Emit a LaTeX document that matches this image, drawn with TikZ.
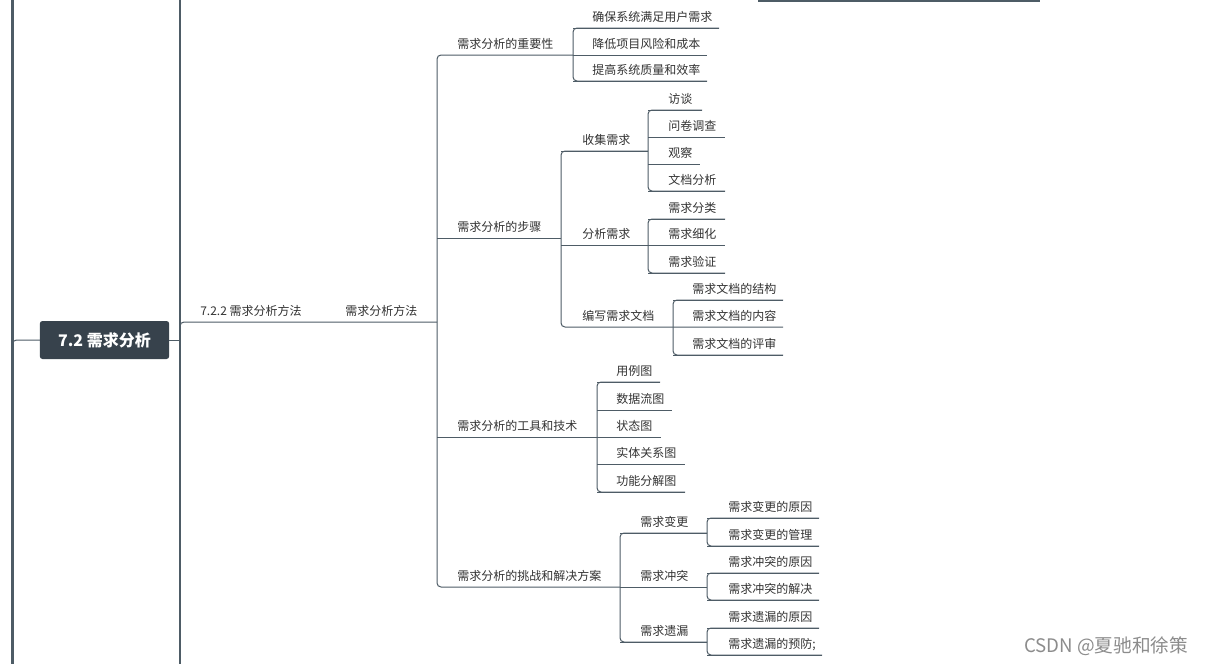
\documentclass[tikz,border=0pt]{standalone}
\usepackage{fontspec}
\setmainfont{Noto Sans CJK SC}
\definecolor{ln}{HTML}{4E5C66}
\definecolor{tx}{HTML}{333333}
\definecolor{rootbg}{HTML}{37424C}
\tikzset{
  lbl/.style={anchor=base west, inner sep=0pt, text=tx, font=\fontsize{9}{10}\selectfont},
  link/.style={draw=ln, line width=0.75pt, rounded corners=3pt},
  rootbox/.style={fill=rootbg, rounded corners=2pt, text=white, font=\fontsize{12}{13}\selectfont\bfseries, inner sep=0pt, minimum width=97pt, minimum height=28.5pt},
}
% \lf{name}{vx}{y}{textx}{endx}{text}
\newcommand{\lf}[6]{%
  \node[lbl] (#1) at (#4,#3-6.5) {#6};
  \coordinate (#1e) at (#5,#3);
  \draw[link] (#2,#3) -- (#1e);
}
\begin{document}
\begin{tikzpicture}[x=0.75pt,y=-0.75pt]
\useasboundingbox (0,0) rectangle (1211,664);
\fill[white] (0,0) rectangle (1211,664);
% top-right cut edge
\fill[ln] (758,0) rectangle (1040,1.6);
% left main trunk
\draw[ln, line width=1.6pt] (12.5,0) -- (12.5,664);
\draw[link] (12.5,350) -- (12.5,340) -- (40,340);
% root
\node[rootbox] (root) at (104.5,340) {7.2 需求分析};
\coordinate (t1) at (180,340);
\draw[link] (root.east) -- (t1);
\draw[ln, line width=0.9pt] (180,0) -- (180,664);
% level 1
\node[lbl] (m1) at (200,315.5) {7.2.2 需求分析方法};
\node[lbl] (m2) at (345,315.5) {需求分析方法};
\coordinate (v2) at (437,322);
\draw[link] (180,330) -- (180,322) -- (v2);
% level 2 trunk
\draw[link] (573,55) -- (437,55) -- (437,587) -- (620,587);
\node[lbl] (imp) at (457,48.5) {需求分析的重要性};
\node[lbl] (stp) at (457,231.5) {需求分析的步骤};
\draw[link] (437,238) -- (561,238);
\node[lbl] (tool) at (457,430.5) {需求分析的工具和技术};
\draw[link] (437,437) -- (597,437);
\node[lbl] (chal) at (457,580.5) {需求分析的挑战和解决方案};
% importance children
\draw[link] (719,28) -- (573,28) -- (573,81) -- (707,81);
\lf{i1}{573}{28}{592}{719}{确保系统满足用户需求}
\lf{i2}{573}{55}{592}{707}{降低项目风险和成本}
\lf{i3}{573}{81}{592}{707}{提高系统质量和效率}
% steps children
\draw[link] (648,151) -- (561,151) -- (561,327) -- (783,327);
\lf{s1}{561}{151}{582}{648}{收集需求}
\lf{s2}{561}{245}{582}{648}{分析需求}
\node[lbl] (s3) at (582,320.5) {编写需求文档};
% collect children
\draw[link] (702,110) -- (648,110) -- (648,191) -- (725,191);
\lf{c1}{648}{110}{668}{702}{访谈}
\lf{c2}{648}{137}{668}{725}{问卷调查}
\lf{c3}{648}{164}{668}{700}{观察}
\lf{c4}{648}{191}{668}{725}{文档分析}
% analyse children
\draw[link] (725,219) -- (648,219) -- (648,273) -- (725,273);
\lf{a1}{648}{219}{668}{725}{需求分类}
\lf{a2}{648}{245}{668}{725}{需求细化}
\lf{a3}{648}{273}{668}{725}{需求验证}
% write children
\draw[link] (783,300) -- (673,300) -- (673,355) -- (783,355);
\lf{w1}{673}{300}{692}{783}{需求文档的结构}
\node[lbl] (w2) at (692,320.5) {需求文档的内容};
\lf{w3}{673}{355}{692}{783}{需求文档的评审}
% tools children
\draw[link] (660,382) -- (597,382) -- (597,492) -- (685,492);
\lf{t1n}{597}{382}{616}{660}{用例图}
\lf{t2n}{597}{410}{616}{672}{数据流图}
\lf{t3n}{597}{437}{616}{661}{状态图}
\lf{t4n}{597}{464}{616}{685}{实体关系图}
\lf{t5n}{597}{492}{616}{685}{功能分解图}
% challenge children
\draw[link] (707,533) -- (620,533) -- (620,642) -- (707,642);
\lf{h1}{620}{533}{640}{707}{需求变更}
\lf{h2}{620}{587}{640}{707}{需求冲突}
\lf{h3}{620}{642}{640}{707}{需求遗漏}
% change children
\draw[link] (819,518) -- (707,518) -- (707,546) -- (819,546);
\lf{g1}{707}{518}{728}{819}{需求变更的原因}
\lf{g2}{707}{546}{728}{819}{需求变更的管理}
% conflict children
\draw[link] (819,573) -- (707,573) -- (707,600) -- (819,600);
\lf{k1}{707}{573}{728}{819}{需求冲突的原因}
\lf{k2}{707}{600}{728}{819}{需求冲突的解决}
% omission children
\draw[link] (819,628) -- (707,628) -- (707,655) -- (822,655);
\lf{o1}{707}{628}{728}{819}{需求遗漏的原因}
\lf{o2}{707}{655}{728}{822}{需求遗漏的预防;}
% watermark
\node[anchor=base west, inner sep=0pt, text=black!45, font=\fontsize{14}{16}\selectfont] (wm) at (1024,652) {CSDN @夏驰和徐策};
\end{tikzpicture}
\end{document}
